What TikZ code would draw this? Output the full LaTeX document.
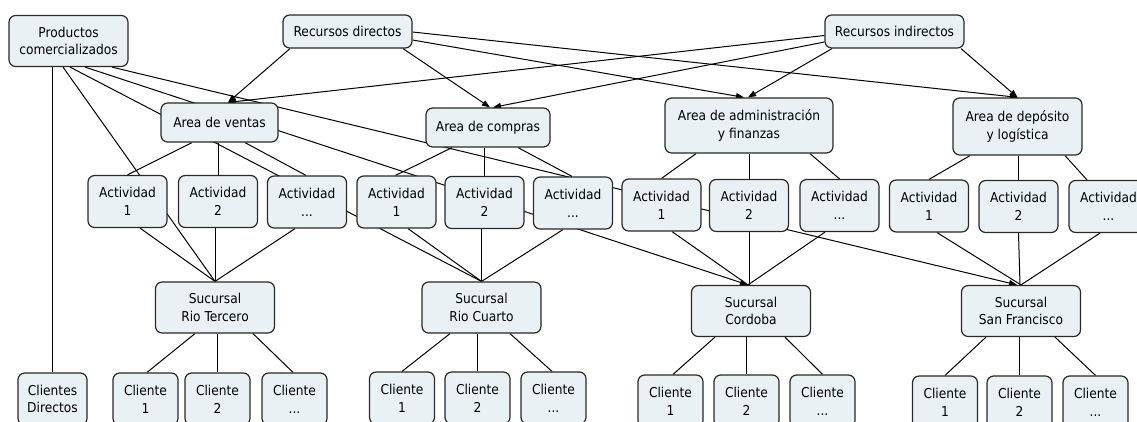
\documentclass[tikz,border=0pt]{standalone}
\usepackage{fontspec}
\setmainfont{DejaVu Sans}[FakeStretch=0.9]
\usetikzlibrary{arrows.meta,calc,backgrounds}
\definecolor{boxfill}{RGB}{234,241,244}
\definecolor{boxline}{RGB}{40,40,40}
\tikzset{
  box/.style={draw=boxline, fill=boxfill, rounded corners=5pt, line width=0.9pt,
    align=center, inner sep=0pt, font=\fontsize{10.2pt}{13.3pt}\selectfont},
  pcbox/.style={box, minimum width=89.25pt, minimum height=38.25pt},
  rdbox/.style={box, minimum width=96.75pt, minimum height=24.75pt},
  ribox/.style={box, minimum width=104.25pt, minimum height=24.75pt},
  avbox/.style={box, minimum width=87.75pt, minimum height=29.25pt},
  acbox/.style={box, minimum width=93pt, minimum height=29.25pt},
  aafbox/.style={box, minimum width=126pt, minimum height=41.25pt},
  adlbox/.style={box, minimum width=96.75pt, minimum height=42.75pt},
  actbox/.style={box, minimum width=59.25pt, minimum height=39pt},
  sucbox/.style={box, minimum width=89.25pt, minimum height=38.25pt},
  clibox/.style={box, minimum width=48.75pt, minimum height=39pt},
  cdbox/.style={box, minimum width=51.75pt, minimum height=39pt},
  link/.style={draw=black, line width=0.75pt},
  arr/.style={link, -{Triangle[length=6pt,width=4.5pt]}}
}
\begin{document}
\begin{tikzpicture}[x=0.75pt, y=-0.75pt]
\useasboundingbox (0,0) rectangle (1137,421);
% top row
\node[pcbox] (pc) at (68.5,41) {Productos\\comercializados};
\node[rdbox] (rd) at (347.5,31.5) {Recursos directos};
\node[ribox] (ri) at (894.5,31.5) {Recursos indirectos};
% areas
\node[avbox] (av) at (219.5,122.5) {Area de ventas};
\node[acbox] (ac) at (488,127.5) {Area de compras};
\node[aafbox] (aaf) at (749,125.5) {Area de administración\\y finanzas};
\node[adlbox] (adl) at (1017.5,126.5) {Area de depósito\\y logística};
% activities
\node[actbox] (a11) at (127.5,201.5) {Actividad\\1};
\node[actbox] (a12) at (218,201.5) {Actividad\\2};
\node[actbox] (a13) at (307,202) {Actividad\\...};
\node[actbox] (a21) at (396.5,202) {Actividad\\1};
\node[actbox] (a22) at (484.5,202.5) {Actividad\\2};
\node[actbox] (a23) at (573,203) {Actividad\\...};
\node[actbox] (a31) at (661.5,205) {Actividad\\1};
\node[actbox] (a32) at (749,205.5) {Actividad\\2};
\node[actbox] (a33) at (839.5,205.5) {Actividad\\...};
\node[actbox] (a41) at (929,206) {Actividad\\1};
\node[actbox] (a42) at (1018.5,206.5) {Actividad\\2};
\node[actbox] (a43) at (1108.5,206.5) {Actividad\\...};
% sucursales
\node[sucbox] (rt) at (215,307.5) {Sucursal\\Rio Tercero};
\node[sucbox] (rc) at (481.5,307.5) {Sucursal\\Rio Cuarto};
\node[sucbox] (co) at (751,311) {Sucursal\\Cordoba};
\node[sucbox] (sf) at (1021,311) {Sucursal\\San Francisco};
% clients
\node[cdbox] (cd) at (52.5,399) {Clientes\\Directos};
\node[clibox] (c11) at (145.5,399) {Cliente\\1};
\node[clibox] (c12) at (217.5,399) {Cliente\\2};
\node[clibox] (c13) at (294.5,399) {Cliente\\...};
\node[clibox] (c21) at (402,398) {Cliente\\1};
\node[clibox] (c22) at (477.5,398) {Cliente\\2};
\node[clibox] (c23) at (553.5,398) {Cliente\\...};
\node[clibox] (c31) at (670.5,401) {Cliente\\1};
\node[clibox] (c32) at (746.5,401) {Cliente\\2};
\node[clibox] (c33) at (822.5,401) {Cliente\\...};
\node[clibox] (c41) at (945,402) {Cliente\\1};
\node[clibox] (c42) at (1019.5,402) {Cliente\\2};
\node[clibox] (c43) at (1095.5,402) {Cliente\\...};

\begin{pgfonlayer}{background}
% Productos comercializados
\draw[link] (cd.north |- pc.south) -- (cd.north);
\draw[link] ($(pc.south)+(-5.5,0)$) -- (rt.north);
\draw[link] ($(pc.south)+(1.5,0)$) -- (rc.north);
\draw[arr] ($(pc.south)+(16.5,0)$) -- ($(co.north)+(-3,0)$);
\draw[arr] ($(pc.south)+(43.5,0)$) -- ($(sf.north)+(-4,0)$);
% Recursos
\draw[arr] ($(rd.south)+(-57.5,0)$) -- ($(av.north)+(8.5,0)$);
\draw[arr] ($(ri.west)+(0,4)$) -- ($(av.north)+(8.5,0)$);
\draw[arr] ($(rd.south)+(55.5,0)$) -- ($(ac.north)+(2,0)$);
\draw[arr] ($(rd.east)+(0,0.5)$) -- ($(adl.north)+(0.5,0)$);
\draw[arr] ($(rd.east)+(0,8.5)$) -- ($(aaf.north)+(-5,0)$);
\draw[arr] ($(ri.west)+(0,10.5)$) -- ($(ac.north)+(5,0)$);
\draw[arr] ($(ri.south)+(-62.5,0)$) -- ($(aaf.north)+(-1,0)$);
\draw[arr] ($(ri.south)+(66.5,0)$) -- (adl.north);
% areas to activities
\draw[link] ($(av.south)+(-27.5,0)$) -- (a11.north);
\draw[link] (a12.north |- av.south) -- (a12.north);
\draw[link] ($(av.south)+(25.5,0)$) -- ($(a13.north)+(-1,0)$);
\draw[link] ($(ac.south)+(-36,0)$) -- ($(a21.north)+(-1,0)$);
\draw[link] ($(ac.south)+(-4,0)$) -- ($(a22.north)+(-0.5,0)$);
\draw[link] ($(ac.south)+(30,0)$) -- ($(a23.north)+(-1,0)$);
\draw[link] ($(aaf.south)+(-53,0)$) -- (a31.north);
\draw[link] (a32.north |- aaf.south) -- (a32.north);
\draw[link] ($(aaf.south)+(61,0)$) -- (a33.north);
\draw[link] ($(adl.south)+(-47.5,0)$) -- (a41.north);
\draw[link] (a42.north |- adl.south) -- (a42.north);
\draw[link] ($(adl.south)+(47.5,0)$) -- ($(a43.north)+(-21.5,0)$);
% activities to sucursales
\draw[link] ($(a11.south)+(12.5,0)$) -- (rt.north);
\draw[link] ($(a12.south)+(-3,0)$) -- (rt.north);
\draw[link] ($(a13.south)+(-12,0)$) -- (rt.north);
\draw[link] ($(a21.south)+(11.5,0)$) -- (rc.north);
\draw[link] (rc.north |- a22.south) -- (rc.north);
\draw[link] ($(a23.south)+(-10,0)$) -- (rc.north);
\draw[link] ($(a31.south)+(10.5,0)$) -- ($(co.north)+(-3,0)$);
\draw[link] (a32.south) -- ($(co.north)+(-2,0)$);
\draw[link] ($(a33.south)+(-14.5,0)$) -- ($(co.north)+(-3,0)$);
\draw[link] ($(a41.south)+(8,0)$) -- (sf.north);
\draw[link] (a42.south) -- ($(sf.north)+(-1,0)$);
\draw[link] ($(a43.south)+(-8.5,0)$) -- (sf.north);
% sucursales to clients
\draw[link] ($(rt.south)+(-20,0)$) -- ($(c11.north)+(1.5,0)$);
\draw[link] (c12.north |- rt.south) -- (c12.north);
\draw[link] ($(rt.south)+(38,0)$) -- ($(c13.north)+(-1.5,0)$);
\draw[link] ($(rc.south)+(-31.5,0)$) -- (c21.north);
\draw[link] (c22.north |- rc.south) -- (c22.north);
\draw[link] ($(rc.south)+(28.5,0)$) -- ($(c23.north)+(-1.5,0)$);
\draw[link] ($(co.south)+(-36,0)$) -- ($(c31.north)+(2.5,0)$);
\draw[link] (c32.north |- co.south) -- (c32.north);
\draw[link] ($(co.south)+(34,0)$) -- (c33.north);
\draw[link] ($(sf.south)+(-35,0)$) -- (c41.north);
\draw[link] (c42.north |- sf.south) -- (c42.north);
\draw[link] ($(sf.south)+(34,0)$) -- (c43.north);
\end{pgfonlayer}
\end{tikzpicture}
\end{document}
